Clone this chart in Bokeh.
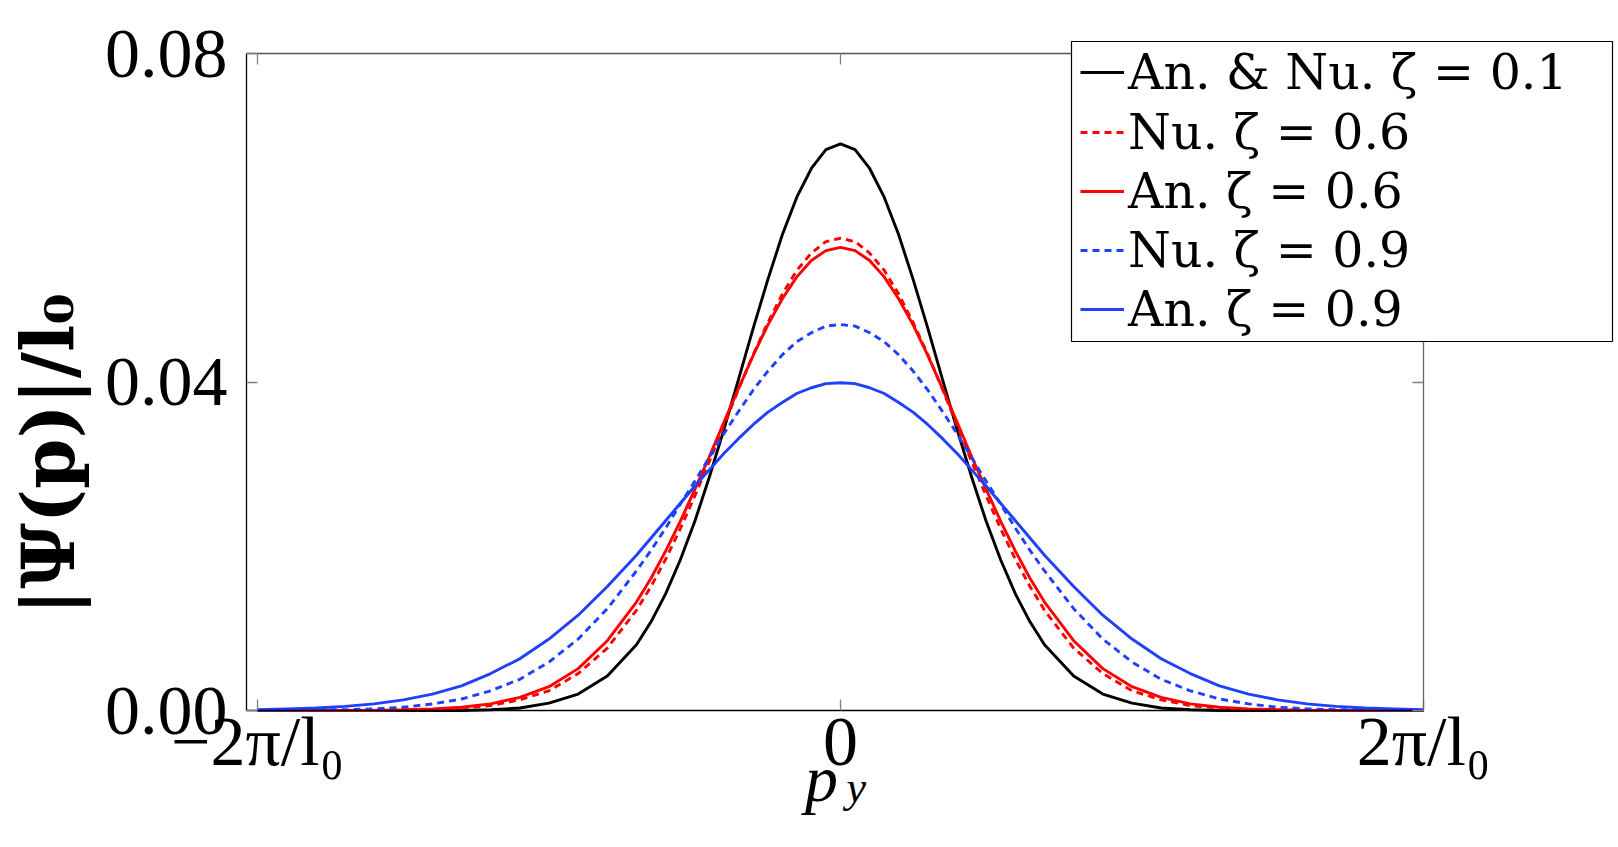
import numpy as np
from bokeh.plotting import figure
from bokeh.models import (FixedTicker, LinearAxis, Range1d, Legend, LegendItem, Label,
                          BoxAnnotation)
from bokeh.embed import file_html
from bokeh.resources import INLINE

# ---------------- data ----------------
p_y = [-6.283, -5.969, -5.655, -5.341, -5.027, -4.712, -4.398, -4.084, -3.770, -3.456, -3.142, -2.827, -2.513,
       -2.199, -2.042, -1.885, -1.728, -1.571, -1.414, -1.257, -1.100, -0.942, -0.785, -0.628, -0.471, -0.314, -0.157,
       0.0,
       0.157, 0.314, 0.471, 0.628, 0.785, 0.942, 1.100, 1.257, 1.414, 1.571, 1.728, 1.885, 2.042, 2.199,
       2.513, 2.827, 3.142, 3.456, 3.770, 4.084, 4.398, 4.712, 5.027, 5.341, 5.655, 5.969, 6.283]

an_nu_01 = [0.0, 0.0, 0.0, 0.0, 0.0, 0.0, 0.0, 0.0, 0.0001, 0.0003, 0.0009, 0.0020, 0.0042,
            0.0080, 0.0108, 0.0142, 0.0183, 0.0230, 0.0284, 0.0342, 0.0403, 0.0465, 0.0524, 0.0579, 0.0625, 0.0660, 0.0683,
            0.0690,
            0.0683, 0.0660, 0.0625, 0.0579, 0.0524, 0.0465, 0.0403, 0.0342, 0.0284, 0.0230, 0.0183, 0.0142, 0.0108, 0.0080,
            0.0042, 0.0020, 0.0009, 0.0003, 0.0001, 0.0, 0.0, 0.0, 0.0, 0.0, 0.0, 0.0, 0.0]

nu_06 = [0.0, 0.0, 0.0, 0.0, 0.0, 0.0001, 0.0001, 0.0003, 0.0006, 0.0013, 0.0024, 0.0045, 0.0076,
         0.0122, 0.0151, 0.0184, 0.0221, 0.0261, 0.0303, 0.0347, 0.0391, 0.0433, 0.0472, 0.0507, 0.0536, 0.0557, 0.0571,
         0.0575,
         0.0571, 0.0557, 0.0536, 0.0507, 0.0472, 0.0433, 0.0391, 0.0347, 0.0303, 0.0261, 0.0221, 0.0184, 0.0151, 0.0122,
         0.0076, 0.0045, 0.0024, 0.0013, 0.0006, 0.0003, 0.0001, 0.0001, 0.0, 0.0, 0.0, 0.0, 0.0]

an_06 = [0.0, 0.0, 0.0, 0.0, 0.0, 0.0001, 0.0002, 0.0004, 0.0008, 0.0016, 0.0029, 0.0051, 0.0085,
         0.0132, 0.0161, 0.0194, 0.0230, 0.0269, 0.0309, 0.0351, 0.0392, 0.0432, 0.0469, 0.0501, 0.0528, 0.0548, 0.0560,
         0.0564,
         0.0560, 0.0548, 0.0528, 0.0501, 0.0469, 0.0432, 0.0392, 0.0351, 0.0309, 0.0269, 0.0230, 0.0194, 0.0161, 0.0132,
         0.0085, 0.0051, 0.0029, 0.0016, 0.0008, 0.0004, 0.0002, 0.0001, 0.0, 0.0, 0.0, 0.0, 0.0]

nu_09 = [0.0, 0.0, 0.0001, 0.0001, 0.0002, 0.0004, 0.0008, 0.0014, 0.0024, 0.0038, 0.0059, 0.0087, 0.0124,
         0.0170, 0.0195, 0.0222, 0.0251, 0.0279, 0.0308, 0.0337, 0.0364, 0.0390, 0.0413, 0.0433, 0.0449, 0.0460, 0.0468,
         0.0470,
         0.0468, 0.0460, 0.0449, 0.0433, 0.0413, 0.0390, 0.0364, 0.0337, 0.0308, 0.0279, 0.0251, 0.0222, 0.0195, 0.0170,
         0.0124, 0.0087, 0.0059, 0.0038, 0.0024, 0.0014, 0.0008, 0.0004, 0.0002, 0.0001, 0.0001, 0.0, 0.0]

an_09 = [0.0001, 0.0002, 0.0003, 0.0005, 0.0008, 0.0013, 0.0020, 0.0030, 0.0045, 0.0063, 0.0087, 0.0116, 0.0151,
         0.0189, 0.0210, 0.0231, 0.0252, 0.0273, 0.0293, 0.0313, 0.0331, 0.0348, 0.0363, 0.0375, 0.0386, 0.0393, 0.0398,
         0.0399,
         0.0398, 0.0393, 0.0386, 0.0375, 0.0363, 0.0348, 0.0331, 0.0313, 0.0293, 0.0273, 0.0252, 0.0231, 0.0210, 0.0189,
         0.0151, 0.0116, 0.0087, 0.0063, 0.0045, 0.0030, 0.0020, 0.0013, 0.0008, 0.0005, 0.0003, 0.0002, 0.0001]

x_ticks = [-2 * np.pi, 0.0, 2 * np.pi]
x_tick_labels = ["\u22122\u03c0/l\u2080", "0", "2\u03c0/l\u2080"]
y_ticks = [0.0, 0.04, 0.08]
y_tick_labels = ["0.00", "0.04", "0.08"]
legend_labels = ["An. & Nu. \u03b6 = 0.1", "Nu. \u03b6 = 0.6", "An. \u03b6 = 0.6",
                 "Nu. \u03b6 = 0.9", "An. \u03b6 = 0.9"]
y_label = "|\u03a8(p)|/l\u2080"

# axes box limits (data units)
X_LO, X_HI = -6.4017, 6.2832
Y_LO, Y_HI = 0.0, 0.08

# ---------------- figure ----------------
FONT = "Liberation Serif"
LEG_FONT = "DejaVu Serif"
BLUE = "#1f40ff"
RED = "#ff0000"
W, H = 1616, 845
BOX_L, BOX_R, BOX_T, BOX_B = 246, 1423, 53, 710   # axes box inside the canvas (px)

sx = (BOX_R - BOX_L) / (X_HI - X_LO)
sy = (BOX_B - BOX_T) / (Y_HI - Y_LO)
x_range = Range1d(X_LO - BOX_L / sx, X_HI + (W - BOX_R) / sx)
y_range = Range1d(Y_LO - (H - BOX_B) / sy, Y_HI + BOX_T / sy)

def xd(px):
    return x_range.start + px / sx

def yd(py):
    return y_range.end - py / sy

p = figure(width=W, height=H, output_backend="svg", toolbar_location=None,
           x_range=x_range, y_range=y_range, min_border=0,
           x_axis_location=None, y_axis_location=None)
p.xgrid.visible = False
p.ygrid.visible = False
p.outline_line_color = None
p.background_fill_color = "white"
p.border_fill_color = "white"

xt = FixedTicker(ticks=x_ticks)
yt = FixedTicker(ticks=y_ticks)

def make_axis(ticker, loc, bounds, line_color, labels=None, standoff=0):
    ax = LinearAxis(ticker=ticker, fixed_location=loc, bounds=bounds)
    ax.axis_line_color = line_color
    ax.axis_line_width = 1.3
    ax.major_tick_in = 11
    ax.major_tick_out = 0
    ax.major_tick_line_color = "#808080"
    ax.major_tick_line_width = 1.3
    ax.minor_tick_line_color = None
    if labels is not None:
        ax.major_label_overrides = labels
        ax.major_label_text_font = FONT
        ax.major_label_text_font_size = "70px"
        ax.major_label_text_color = "black"
        ax.major_label_standoff = standoff
    else:
        ax.major_label_text_font_size = "0px"
        ax.major_label_text_alpha = 0
    return ax

p.add_layout(make_axis(xt, Y_LO, (X_LO, X_HI), "black", dict(zip(x_ticks, x_tick_labels)), -8), "below")
p.add_layout(make_axis(yt, X_LO, (Y_LO, Y_HI), "black", dict(zip(y_ticks, y_tick_labels)), 19), "left")
p.add_layout(make_axis(xt, Y_HI, (X_LO, X_HI), "#555555"), "above")
p.add_layout(make_axis(yt, X_HI, (Y_LO, Y_HI), "#666666"), "right")

# ---------------- curves ----------------
r1 = p.line(p_y, an_nu_01, line_color="black", line_width=2.9)
r2 = p.line(p_y, nu_06, line_color=RED, line_width=2.9, line_dash="7 5")
r3 = p.line(p_y, an_06, line_color=RED, line_width=2.9)
r4 = p.line(p_y, nu_09, line_color=BLUE, line_width=2.9, line_dash="7 5")
r5 = p.line(p_y, an_09, line_color=BLUE, line_width=2.9)

# ---------------- legend (frame + one row per entry) ----------------
LEG_L, LEG_R, LEG_T, LEG_B = 1071, 1612, 41, 341
p.add_layout(BoxAnnotation(left=xd(LEG_L), right=xd(LEG_R), top=yd(LEG_T), bottom=yd(LEG_B),
                           fill_color="white", fill_alpha=1.0,
                           line_color="black", line_width=1.2, line_alpha=1.0))

ROW_CENTERS = [72, 132, 191, 250, 309]
ROW_H = 58
for lbl, r, cy in zip(legend_labels, [r1, r2, r3, r4, r5], ROW_CENTERS):
    lg = Legend(items=[LegendItem(label=lbl, renderers=[r])],
                location=(1080, H - (cy + ROW_H / 2)),
                label_text_font=LEG_FONT, label_text_font_size="49px", label_text_color="black",
                glyph_width=44, glyph_height=20, label_standoff=4,
                padding=0, spacing=0, margin=0,
                label_height=ROW_H, label_width=20,
                border_line_color=None,
                background_fill_alpha=0.0)
    p.add_layout(lg)

# ---------------- axis titles ----------------
p.add_layout(Label(x=X_LO, y=0.04, x_offset=-198, y_offset=-72, angle=np.pi / 2,
                   text=y_label, text_align="center", text_baseline="middle",
                   text_font="DejaVu Serif", text_font_size="72px", text_font_style="bold",
                   text_color="black"))
p.add_layout(Label(x=0.0, y=Y_LO, x_offset=-19, y_offset=-68, text="p",
                   text_align="center", text_baseline="alphabetic",
                   text_font=FONT, text_font_size="66px", text_font_style="italic",
                   text_color="black"))
p.add_layout(Label(x=0.0, y=Y_LO, x_offset=6, y_offset=-77, text="y",
                   text_align="left", text_baseline="alphabetic",
                   text_font=FONT, text_font_size="44px", text_font_style="italic",
                   text_color="black"))

open("out.html", "w").write(file_html(p, INLINE))
